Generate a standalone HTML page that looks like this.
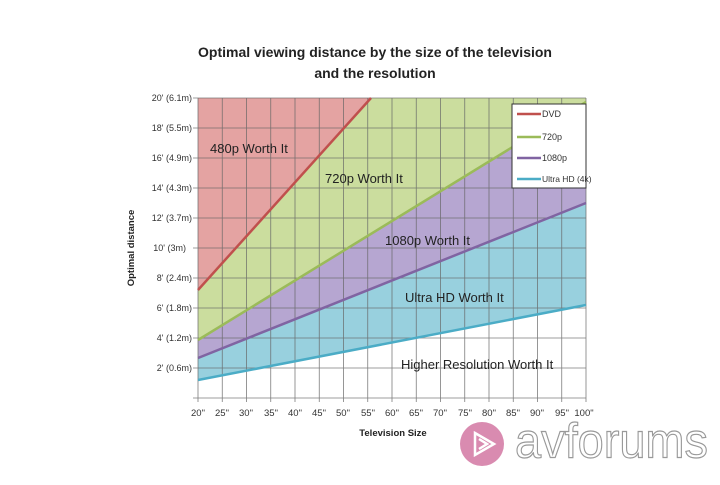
<!DOCTYPE html>
<html><head><style>
body{margin:0;background:#fff;width:720px;height:480px;overflow:hidden;font-family:"Liberation Sans",sans-serif}
</style></head><body>
<svg width="720" height="480" viewBox="0 0 720 480" xmlns="http://www.w3.org/2000/svg" font-family="Liberation Sans, sans-serif">
<text x="375" y="57" text-anchor="middle" font-size="14" font-weight="bold" fill="#222">Optimal viewing distance by the size of the television</text>
<text x="375" y="78" text-anchor="middle" font-size="14" font-weight="bold" fill="#222">and the resolution</text>
<polygon points="198,98 371,98 198,290" fill="#e4a3a2"/>
<polygon points="371,98 586,98 586,102 198,340 198,290" fill="#cbdd9e"/>
<polygon points="586,102 586,203 198,358 198,340" fill="#b6a6d1"/>
<polygon points="586,203 586,305 198,380 198,358" fill="#98d0de"/>
<g stroke="#666" stroke-width="0.8" opacity="0.85">
<line x1="193" y1="98" x2="586" y2="98"/><line x1="193" y1="128" x2="586" y2="128"/><line x1="193" y1="158" x2="586" y2="158"/><line x1="193" y1="188" x2="586" y2="188"/><line x1="193" y1="218" x2="586" y2="218"/><line x1="193" y1="248" x2="586" y2="248"/><line x1="193" y1="278" x2="586" y2="278"/><line x1="193" y1="308" x2="586" y2="308"/><line x1="193" y1="338" x2="586" y2="338"/><line x1="193" y1="368" x2="586" y2="368"/><line x1="193" y1="398" x2="586" y2="398"/>
<line x1="198" y1="98" x2="198" y2="402"/><line x1="222.25" y1="98" x2="222.25" y2="402"/><line x1="246.5" y1="98" x2="246.5" y2="402"/><line x1="270.75" y1="98" x2="270.75" y2="402"/><line x1="295" y1="98" x2="295" y2="402"/><line x1="319.25" y1="98" x2="319.25" y2="402"/><line x1="343.5" y1="98" x2="343.5" y2="402"/><line x1="367.75" y1="98" x2="367.75" y2="402"/><line x1="392" y1="98" x2="392" y2="402"/><line x1="416.25" y1="98" x2="416.25" y2="402"/><line x1="440.5" y1="98" x2="440.5" y2="402"/><line x1="464.75" y1="98" x2="464.75" y2="402"/><line x1="489" y1="98" x2="489" y2="402"/><line x1="513.25" y1="98" x2="513.25" y2="402"/><line x1="537.5" y1="98" x2="537.5" y2="402"/><line x1="561.75" y1="98" x2="561.75" y2="402"/><line x1="586" y1="98" x2="586" y2="402"/>
</g>
<g stroke-width="2.5" fill="none">
<line x1="198" y1="290" x2="371" y2="98" stroke="#c0504d"/>
<line x1="198" y1="340" x2="586" y2="102" stroke="#9bbb59"/>
<line x1="198" y1="358" x2="586" y2="203" stroke="#8064a2"/>
<line x1="198" y1="380" x2="586" y2="305" stroke="#4bacc6"/>
</g>
<rect x="512" y="104" width="74" height="84" fill="#fff" stroke="#333" stroke-width="1"/>
<g stroke-width="2.5"><line x1="517" y1="114" x2="541" y2="114" stroke="#c0504d"/><line x1="517" y1="137" x2="541" y2="137" stroke="#9bbb59"/><line x1="517" y1="158" x2="541" y2="158" stroke="#8064a2"/><line x1="517" y1="179" x2="541" y2="179" stroke="#4bacc6"/></g>
<g font-size="9" fill="#333"><text x="542" y="117">DVD</text><text x="542" y="140">720p</text><text x="542" y="161">1080p</text><text x="542" y="182" font-size="8.5">Ultra HD (4k)</text></g>
<g font-size="13" fill="#222"><text x="210" y="153">480p Worth It</text><text x="325" y="183">720p Worth It</text><text x="385" y="245">1080p Worth It</text><text x="405" y="302">Ultra HD Worth It</text><text x="401" y="369">Higher Resolution Worth It</text></g>
<g font-size="9" fill="#333" text-anchor="end"><text x="192" y="101">20' (6.1m)</text><text x="192" y="131">18' (5.5m)</text><text x="192" y="161">16' (4.9m)</text><text x="192" y="191">14' (4.3m)</text><text x="192" y="221">12' (3.7m)</text><text x="186" y="251">10' (3m)</text><text x="192" y="281">8' (2.4m)</text><text x="192" y="311">6' (1.8m)</text><text x="192" y="341">4' (1.2m)</text><text x="192" y="371">2' (0.6m)</text></g>
<g font-size="9.5" fill="#333" text-anchor="middle"><text x="198" y="416">20"</text><text x="222" y="416">25"</text><text x="246" y="416">30"</text><text x="271" y="416">35"</text><text x="295" y="416">40"</text><text x="319" y="416">45"</text><text x="343" y="416">50"</text><text x="368" y="416">55"</text><text x="392" y="416">60"</text><text x="416" y="416">65"</text><text x="440" y="416">70"</text><text x="465" y="416">75"</text><text x="489" y="416">80"</text><text x="513" y="416">85"</text><text x="537" y="416">90"</text><text x="562" y="416">95"</text><text x="584" y="416">100"</text></g>
<text x="393" y="436" text-anchor="middle" font-size="9.5" font-weight="bold" fill="#222">Television Size</text>
<text transform="translate(134,248) rotate(-90)" text-anchor="middle" font-size="9.5" font-weight="bold" fill="#222">Optimal distance</text>
<circle cx="482" cy="444" r="22" fill="#d98bb0"/>
<path d="M475 433 L494 444 L475 455 Z M479 439 L487 444 L479 449" fill="none" stroke="#fff" stroke-width="2.5"/>
<text x="515" y="352" font-size="38" fill="#fff" stroke="#999" stroke-width="0.9" textLength="193" lengthAdjust="spacingAndGlyphs" transform="scale(1,1.3)">avforums</text>
</svg>
</body></html>
